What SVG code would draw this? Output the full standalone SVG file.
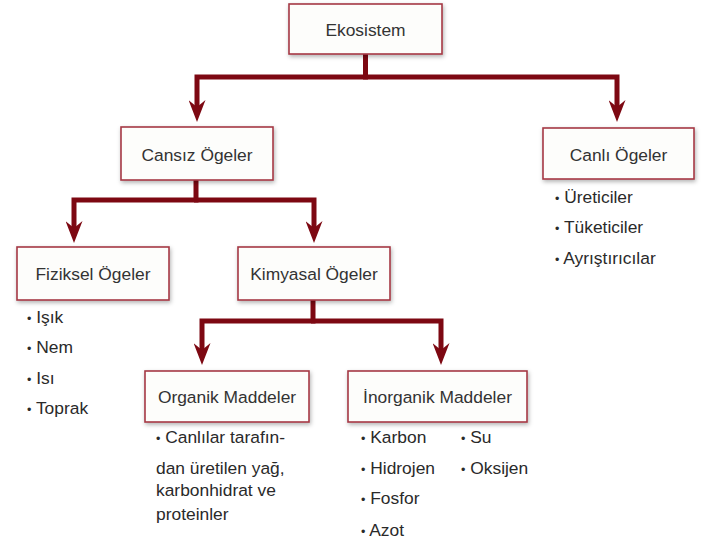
<svg xmlns="http://www.w3.org/2000/svg" width="707" height="544" viewBox="0 0 707 544">
<defs>
<filter id="sh" x="-10%" y="-20%" width="125%" height="150%">
<feDropShadow dx="1" dy="2" stdDeviation="2" flood-color="#000" flood-opacity="0.3"/>
</filter>
<marker id="ah" viewBox="0 -8.5 22 17" refX="7" refY="0" markerWidth="22" markerHeight="17" markerUnits="userSpaceOnUse" orient="auto">
<path d="M0,-8.5 L22,0 L0,8.5 L7,0 Z" fill="#7d0812"/>
</marker>
</defs>
<style>
.box{fill:#fdfdfb;stroke:#a53a45;stroke-width:1.6;filter:url(#sh)}
.lbl{font-family:"Liberation Sans",Arial,sans-serif;font-size:17.4px;fill:#333;text-anchor:middle}
.li{font-family:"Liberation Sans",Arial,sans-serif;font-size:17.4px;fill:#2a2a2a}
.b{font-size:12.5px}
.con{fill:none;stroke:#7d0812;stroke-width:5;stroke-linejoin:miter}
</style>
<rect width="707" height="544" fill="#fff"/>
<g id="connectors">
<path class="con" d="M365.5,54 V77 H197 V107" marker-end="url(#ah)"/>
<path class="con" d="M363,77 H617 V107" marker-end="url(#ah)"/>
<path class="con" d="M196,180 V200 H74 V228" marker-end="url(#ah)"/>
<path class="con" d="M194,200 H314 V228" marker-end="url(#ah)"/>
<path class="con" d="M313,300 V321 H202 V350" marker-end="url(#ah)"/>
<path class="con" d="M311,321 H441 V350" marker-end="url(#ah)"/>
</g>
<g id="ekosistem">
<rect class="box" x="289" y="4" width="153" height="50"/>
<text class="lbl" x="365.5" y="35.5">Ekosistem</text>
</g>
<g id="cansiz">
<rect class="box" x="121" y="127" width="152" height="53"/>
<text class="lbl" x="197" y="161">Cansız Ögeler</text>
</g>
<g id="canli">
<rect class="box" x="543" y="128" width="151" height="51"/>
<text class="lbl" x="618.5" y="161">Canlı Ögeler</text>
<text class="li" x="555" y="203"><tspan class="b">•</tspan> Üreticiler</text>
<text class="li" x="555" y="233"><tspan class="b">•</tspan> Tüketiciler</text>
<text class="li" x="555" y="264"><tspan class="b">•</tspan> Ayrıştırıcılar</text>
</g>
<g id="fiziksel">
<rect class="box" x="17" y="247" width="152" height="53"/>
<text class="lbl" x="93" y="280">Fiziksel Ögeler</text>
<text class="li" x="27" y="323"><tspan class="b">•</tspan> Işık</text>
<text class="li" x="27" y="353"><tspan class="b">•</tspan> Nem</text>
<text class="li" x="27" y="384"><tspan class="b">•</tspan> Isı</text>
<text class="li" x="27" y="414"><tspan class="b">•</tspan> Toprak</text>
</g>
<g id="kimyasal">
<rect class="box" x="238" y="247" width="152" height="53"/>
<text class="lbl" x="314" y="280">Kimyasal Ögeler</text>
</g>
<g id="organik">
<rect class="box" x="145" y="371" width="164" height="51"/>
<text class="lbl" x="227" y="403">Organik Maddeler</text>
<text class="li" x="156" y="443"><tspan class="b">•</tspan> Canlılar tarafın-</text>
<text class="li" x="156" y="474">dan üretilen yağ,</text>
<text class="li" x="156" y="496">karbonhidrat ve</text>
<text class="li" x="156" y="520">proteinler</text>
</g>
<g id="inorganik">
<rect class="box" x="348" y="371" width="179" height="51"/>
<text class="lbl" x="437.5" y="403">İnorganik Maddeler</text>
<text class="li" x="361" y="443"><tspan class="b">•</tspan> Karbon</text>
<text class="li" x="361" y="474"><tspan class="b">•</tspan> Hidrojen</text>
<text class="li" x="361" y="504"><tspan class="b">•</tspan> Fosfor</text>
<text class="li" x="361" y="536"><tspan class="b">•</tspan> Azot</text>
<text class="li" x="461" y="443"><tspan class="b">•</tspan> Su</text>
<text class="li" x="461" y="474"><tspan class="b">•</tspan> Oksijen</text>
</g>
</svg>
